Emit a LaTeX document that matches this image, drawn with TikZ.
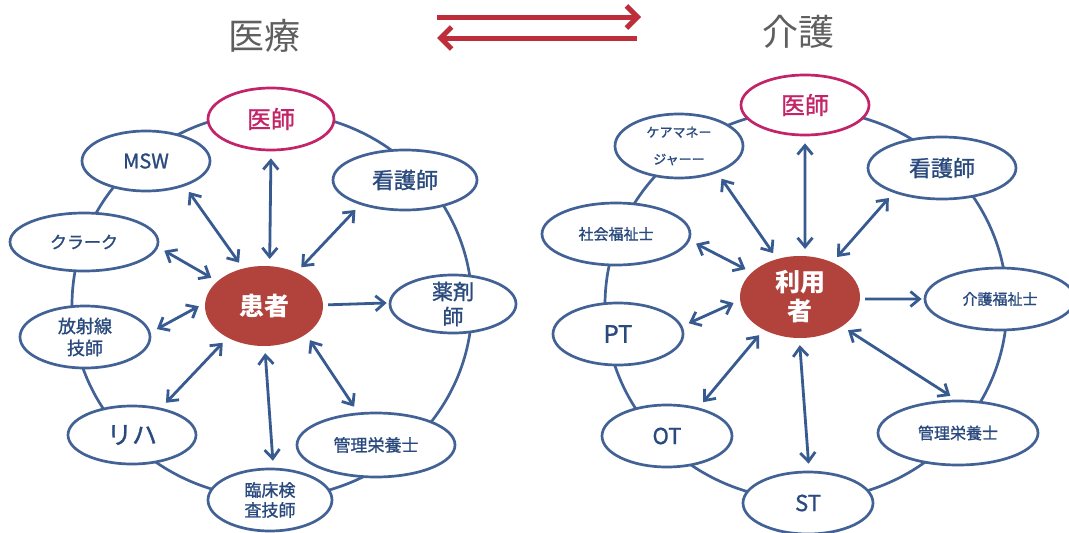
\documentclass[tikz,border=0pt]{standalone}
\usepackage{fontspec}
\setmainfont{Noto Sans CJK JP}
\newfontfamily\medfont[FakeBold=1.2]{Noto Sans CJK JP}
\usetikzlibrary{shapes.geometric,arrows.meta}
\definecolor{nblue}{RGB}{66,98,150}
\definecolor{tblue}{RGB}{42,74,126}
\definecolor{ablue}{RGB}{55,90,145}
\definecolor{mag}{RGB}{195,35,105}
\definecolor{kred}{RGB}{178,66,60}
\definecolor{tred}{RGB}{190,45,58}
\definecolor{tgray}{RGB}{95,95,95}
\newcommand\fsz[2]{\fontsize{#1}{#2}\selectfont}
\begin{document}
\begin{tikzpicture}[x=1pt,y=-1pt,
  ringst/.style={draw=nblue,line width=2.7pt,ellipse,inner sep=0pt},
  rolest/.style={draw=nblue,line width=2.7pt,fill=white,ellipse,inner sep=0pt,text=tblue,align=center,execute at begin node=\medfont},
  docst/.style={rolest,draw=mag,text=mag},
  corest/.style={ellipse,fill=kred,inner sep=0pt,text=white,align=center,font=\bfseries\fsz{25}{29}},
  rr/.style 2 args={minimum width=#1pt,minimum height=#2pt},
  arrst/.style={draw=ablue,line width=2.8pt,{Straight Barb[length=9pt,width=15pt]}-{Straight Barb[length=9pt,width=15pt]},shorten <=7pt,shorten >=7pt},
  onest/.style={draw=ablue,line width=2.8pt,-{Straight Barb[length=9pt,width=15pt]},shorten <=5pt,shorten >=2pt},
  titlest/.style={text=tgray,font=\fsz{36}{40},inner sep=0pt},
  tarrst/.style={draw=tred,line width=5pt,-{Straight Barb[length=11pt,width=22pt]}}
]
\useasboundingbox (0,0) rectangle (1069,533);
\fill[white] (0,0) rectangle (1069,533);

% titles
\node[titlest] (iryo) at (264,36) {医療};
\node[titlest] (kaigo) at (798,32) {介護};
\coordinate (a1s) at (437,17); \coordinate (a1e) at (641,17);
\coordinate (a2s) at (637,38); \coordinate (a2e) at (437,38);
\draw[tarrst] (a1s) -- (a1e);
\draw[tarrst] (a2s) -- (a2e);

% left diagram
\node[ringst,rr={400}{386}] (ringL) at (272,305) {};
\node[docst,rr={126}{62},font=\fsz{24}{28}] (ishiL) at (271,119) {医師};
\node[rolest,rr={128}{60},font=\fsz{20}{24}] (mswL) at (146,161) {MSW};
\node[rolest,rr={144}{60},font=\fsz{22}{26}] (kangoL) at (405,180) {看護師};
\node[rolest,rr={148}{58},font=\fsz{17}{20}] (clerkL) at (84,242) {クラーク};
\node[corest,rr={118}{80}] (kanjaL) at (264,306) {患者};
\node[rolest,rr={126}{58},font=\fsz{21}{25},inner ysep=-5pt] (yakuL) at (453,304) {薬剤\\師};
\node[rolest,rr={130}{62},font=\fsz{18}{22}] (hoshaL) at (85,337) {放射線\\技師};
\node[rolest,rr={128}{58},font=\fsz{25}{29}] (rihaL) at (132,435) {リハ};
\node[rolest,rr={158}{64},font=\fsz{17}{20}] (eiyoL) at (376,445) {管理栄養士};
\node[rolest,rr={124}{62},font=\fsz{17}{20}] (rinshoL) at (270,500) {臨床検\\査技師};

\draw[arrst] (ishiL.-90) -- (kanjaL.82);
\draw[arrst] (mswL.-33) -- (kanjaL.119);
\draw[arrst] (kangoL.209) -- (kanjaL.46);
\draw[arrst] (clerkL.-4) -- (kanjaL.152);
\draw[onest] (kanjaL.1) -- (yakuL.179);
\draw[arrst] (hoshaL.4) -- (kanjaL.177);
\draw[arrst] (rihaL.43) -- (kanjaL.221);
\draw[arrst] (rinshoL.84) -- (kanjaL.-89);
\draw[arrst] (eiyoL.119) -- (kanjaL.-34);

% right diagram
\node[ringst,rr={402}{390}] (ringR) at (806,305) {};
\node[docst,rr={128}{60},font=\fsz{24}{28}] (ishiR) at (805,105) {医師};
\node[rolest,rr={128}{64},font=\fsz{13}{27}] (cmR) at (679,146) {ケアマネー\\ジャーー};
\node[rolest,rr={148}{62},font=\fsz{22}{26}] (kangoR) at (942,168) {看護師};
\node[rolest,rr={148}{62},font=\fsz{15}{18}] (shakaiR) at (616,234) {社会福祉士};
\node[rolest,rr={150}{62},font=\fsz{15}{18}] (kaigoR) at (1000,299) {介護福祉士};
\node[corest,rr={120}{82}] (riyoR) at (800,297) {利用\\者};
\node[rolest,rr={130}{62},font=\fsz{24}{28}] (ptR) at (618,334) {PT};
\node[rolest,rr={130}{62},font=\fsz{22}{26}] (otR) at (667,436) {OT};
\node[rolest,rr={160}{64},font=\fsz{16}{19}] (eiyoR) at (958,433) {管理栄養士};
\node[rolest,rr={130}{62},font=\fsz{22}{26}] (stR) at (808,503) {ST};

\draw[arrst] (ishiR.-90) -- (riyoR.83);
\draw[arrst] (cmR.-35) -- (riyoR.121);
\draw[arrst] (kangoR.207) -- (riyoR.47);
\draw[arrst] (shakaiR.-5) -- (riyoR.153);
\draw[onest] (riyoR.-2) -- (kaigoR.180);
\draw[arrst] (ptR.7) -- (riyoR.183);
\draw[arrst] (otR.42) -- (riyoR.222);
\draw[arrst] (stR.88) -- (riyoR.-91);
\draw[arrst] (eiyoR.93) -- (riyoR.-35);
\end{tikzpicture}
\end{document}
